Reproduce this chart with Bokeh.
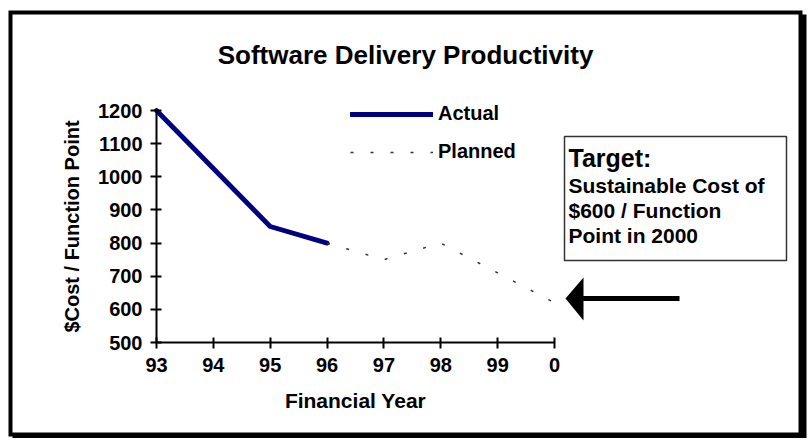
from bokeh.plotting import figure
from bokeh.models import (Range1d, FixedTicker, Legend, LegendItem, Label,
                          BoxAnnotation, PolyAnnotation)
from bokeh.embed import file_html
from bokeh.resources import INLINE

# ---- data ----
years = ["93", "94", "95", "96", "97", "98", "99", "0"]
actual_years = ["93", "94", "95", "96"]
actual_cost = [1200, 1025, 850, 800]
planned_years = ["96", "97", "98", "99", "0"]
planned_cost = [800, 750, 800, 710, 620]
y_ticks = [500, 600, 700, 800, 900, 1000, 1100, 1200]

title_text = "Software Delivery Productivity"
x_title = "Financial Year"
y_title = "$Cost / Function Point"
target_head = "Target:"
target_lines = ["Sustainable Cost of", "$600 / Function", "Point in 2000"]

# ---- layout (canvas pixels) ----
W, H = 808, 438
AX_L, AX_R, AX_T, AX_B = 156, 554, 110, 342   # axis extents on canvas
FONT = "Liberation Sans"

idx = {y: i for i, y in enumerate(years)}
xa = [idx[y] for y in actual_years]
xp = [idx[y] for y in planned_years]

x0, x1 = 0, len(years) - 1
y0, y1 = min(y_ticks), max(y_ticks)
ppx = (AX_R - AX_L) / (x1 - x0)
ppy = (AX_B - AX_T) / (y1 - y0)
x_range = Range1d(x0 - AX_L / ppx, x1 + (W - AX_R) / ppx)
y_range = Range1d(y0 - (H - AX_B) / ppy, y1 + AX_T / ppy)

p = figure(width=W, height=H, x_range=x_range, y_range=y_range,
           output_backend="svg", toolbar_location=None,
           min_border=0, min_border_left=0, min_border_right=0,
           min_border_top=0, min_border_bottom=0,
           background_fill_color="white", border_fill_color="white")
p.outline_line_color = None
p.xgrid.visible = False
p.ygrid.visible = False

box_units = dict(left_units="canvas", right_units="canvas",
                 top_units="canvas", bottom_units="canvas")
# outer frame with shadow
p.add_layout(BoxAnnotation(left=12, right=806, top=14, bottom=440, **box_units,
                           fill_color="black", fill_alpha=1, line_color=None,
                           level="underlay"))
p.add_layout(BoxAnnotation(left=8, right=802, top=10, bottom=436, **box_units,
                           fill_color="black", fill_alpha=1, line_color=None,
                           level="underlay"))
p.add_layout(BoxAnnotation(left=12, right=798, top=14, bottom=432, **box_units,
                           fill_color="white", fill_alpha=1, line_color=None,
                           level="underlay"))

# data lines
r_act = p.line(xa, actual_cost, line_color="#000080", line_width=4.8,
               line_join="round", line_cap="round")
r_plan = p.line(xp, planned_cost, line_color="#333333", line_width=1.5,
                line_dash="3 17")

# axes, drawn at fixed data locations so the frame covers the canvas
p.xaxis.fixed_location = y0
p.yaxis.fixed_location = x0
p.xaxis.bounds = (x0, x1)
p.yaxis.bounds = (y0, y1)
for ax in (p.xaxis[0], p.yaxis[0]):
    ax.axis_line_color = "black"
    ax.axis_line_width = 2
    ax.major_tick_line_color = "black"
    ax.major_tick_line_width = 2
    ax.major_tick_in = 5
    ax.major_tick_out = 6
    ax.minor_tick_line_color = None
    ax.major_label_text_font = FONT
    ax.major_label_text_font_style = "bold"
    ax.major_label_text_font_size = "20px"
    ax.major_label_text_color = "black"
    ax.axis_label_text_font = FONT
    ax.axis_label_text_font_style = "bold"
    ax.axis_label_text_color = "black"

p.xaxis.ticker = FixedTicker(ticks=list(range(len(years))))
p.xaxis.major_label_overrides = {i: lab for i, lab in enumerate(years)}
p.xaxis.major_label_standoff = 9
p.xaxis.axis_label = x_title
p.xaxis.axis_label_text_font_size = "21px"
p.xaxis.axis_label_standoff = 14

p.yaxis.ticker = FixedTicker(ticks=y_ticks)
p.yaxis.major_label_standoff = 8
p.yaxis.axis_label = y_title
p.yaxis.axis_label_text_font_size = "20px"
p.yaxis.axis_label_standoff = 12

# legend (bottom-left corner given in screen px)
legend = Legend(items=[LegendItem(label="Actual", renderers=[r_act]),
                       LegendItem(label="Planned", renderers=[r_plan])],
                location=(350, H - 163), glyph_width=83, glyph_height=20,
                label_height=20, label_standoff=5, spacing=15, padding=0,
                margin=0, border_line_color=None, background_fill_alpha=0,
                label_text_font=FONT, label_text_font_style="bold",
                label_text_font_size="20px", label_text_color="black")
p.add_layout(legend)


def lab(cx, cy, text, size, align="left"):
    return Label(x=cx, y=H - cy, x_units="screen", y_units="screen",
                 text=text, text_align=align, text_baseline="middle",
                 text_font=FONT, text_font_style="bold",
                 text_font_size=size, text_color="black")


# title
p.add_layout(lab(405, 54, title_text, "26px", "center"))

# target box
p.add_layout(BoxAnnotation(left=564, right=786, top=136, bottom=260,
                           **box_units, fill_color="white", fill_alpha=1,
                           line_color="#333333", line_alpha=1, line_width=1.5))
p.add_layout(lab(568, 157, target_head, "25px"))
for i, t in enumerate(target_lines):
    p.add_layout(lab(568, 185 + 25 * i, t, "21px"))

# arrow
p.add_layout(PolyAnnotation(
    xs=[565, 583, 583, 679, 679, 583, 583],
    ys=[298, 277, 295.5, 295.5, 300.5, 300.5, 320],
    xs_units="canvas", ys_units="canvas",
    fill_color="black", fill_alpha=1, line_color=None))

open("out.html", "w").write(file_html(p, INLINE))
